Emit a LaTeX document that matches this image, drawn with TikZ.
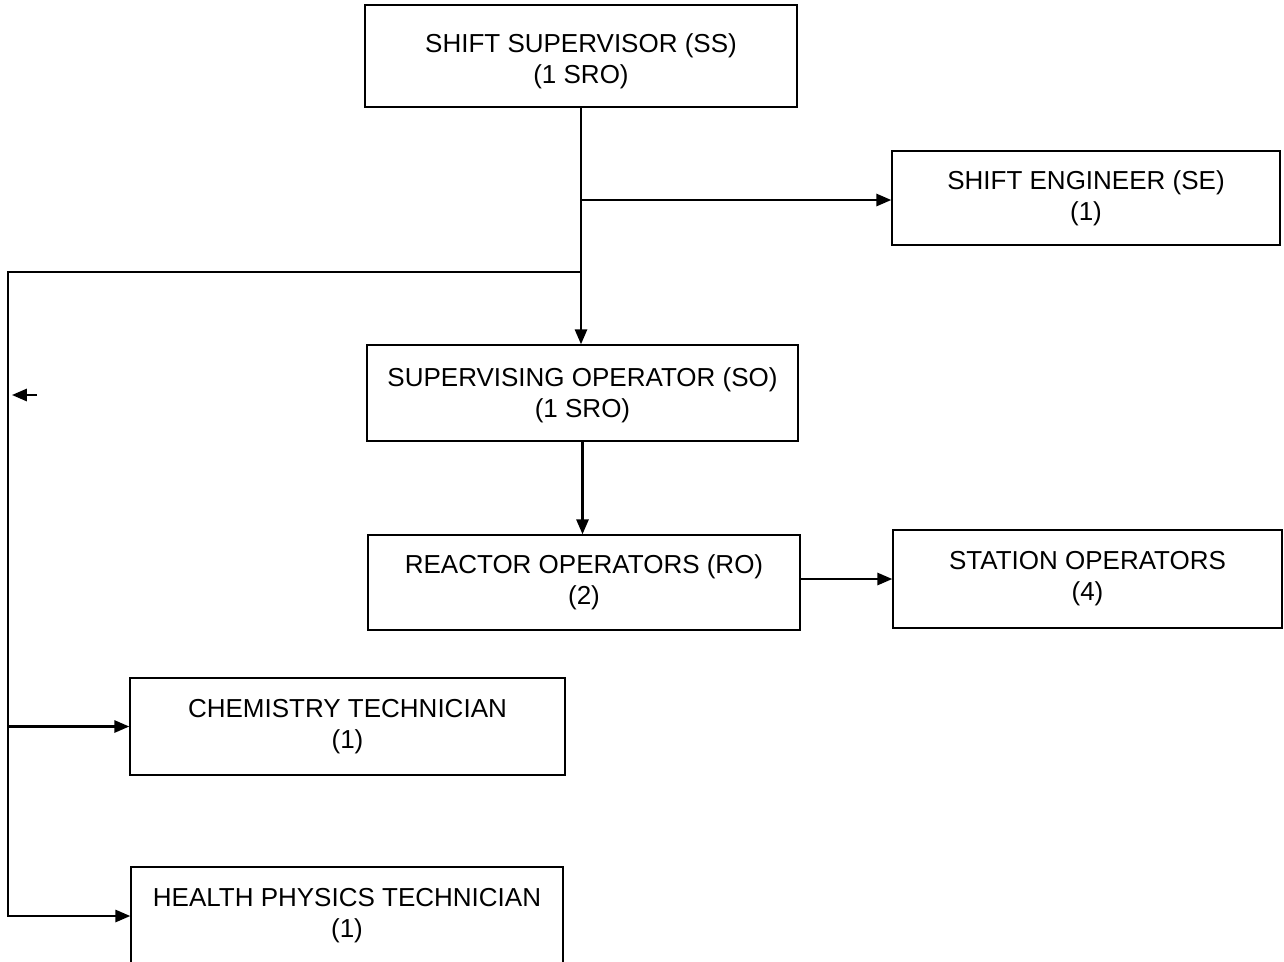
\documentclass[tikz,border=0pt]{standalone}
\usepackage{fontspec}
\setmainfont{Liberation Sans}
\usetikzlibrary{arrows.meta}
\begin{document}
\begin{tikzpicture}[x=0.02cm,y=-0.02cm,
  box/.style={draw,line width=0.9pt,align=center,inner sep=0pt,
    font=\fontsize{14.8}{17.6}\selectfont},
  conn/.style={line width=1.2pt,-{Triangle[length=8.5pt,width=7pt]}}]
\clip (0,0) rectangle (1284,961);
\fill[white] (0,0) rectangle (1284,961);
\node[box,minimum width=8.64cm,minimum height=2.04cm] (ss) at (581,56) {\rule{0pt}{17pt}SHIFT SUPERVISOR (SS)\\(1 SRO)};
\node[box,minimum width=7.76cm,minimum height=1.88cm] (se) at (1086,198) {SHIFT ENGINEER (SE)\\(1)};
\node[box,minimum width=8.62cm,minimum height=1.92cm] (so) at (582.5,393) {\rule{0pt}{13pt}SUPERVISING OPERATOR (SO)\\(1 SRO)};
\node[box,minimum width=8.64cm,minimum height=1.9cm] (ro) at (584,582.5) {REACTOR OPERATORS (RO)\\(2)};
\node[box,minimum width=7.78cm,minimum height=1.96cm] (st) at (1087.5,579) {STATION OPERATORS\\(4)};
\node[box,minimum width=8.7cm,minimum height=1.94cm] (ch) at (347.5,726.5) {CHEMISTRY TECHNICIAN\\(1)};
\node[box,minimum width=8.64cm,minimum height=1.96cm] (he) at (347,916) {HEALTH PHYSICS TECHNICIAN\\(1)};
\coordinate (jSE) at (581,200);
\coordinate (jL) at (581,272);
\coordinate (cL) at (8,272);
\coordinate (s1) at (37,395);
\coordinate (s2) at (12,395);
\draw[conn] (ss.south) -- (ss.south |- so.north);
\draw[conn] (jSE) -- (jSE -| se.west);
\draw[conn] (jL) -- (cL) |- (he.west);
\draw[conn] (cL |- ch.west) -- (ch.west);
\draw[conn] (s1) -- (s2);
\draw[conn] (so.south) -- (so.south |- ro.north);
\draw[conn] (ro.east |- st.west) -- (st.west);
\end{tikzpicture}
\end{document}
